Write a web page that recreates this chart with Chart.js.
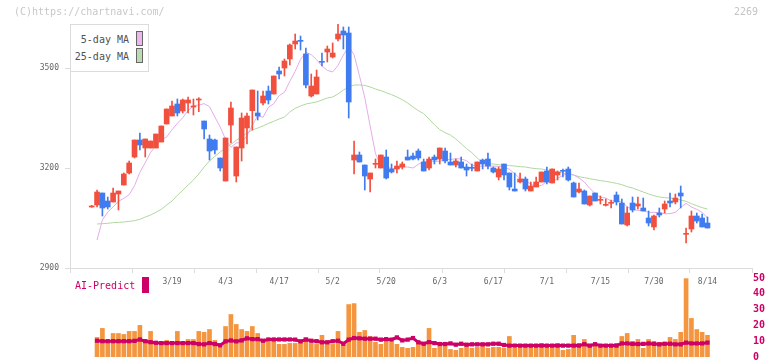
<!DOCTYPE html>
<html>
<head>
<meta charset="utf-8">
<script src="https://cdn.jsdelivr.net/npm/chart.js@4/dist/chart.umd.min.js"></script>
<style>
  body { margin: 0; background: #fff; }
  #wrap { position: relative; width: 772px; height: 361px; font-family: "DejaVu Sans Mono", monospace; font-size: 10px; }
  canvas { position: absolute; left: 0; top: 0; }
  .txt { position: absolute; line-height: 12px; white-space: nowrap; }
  .copy { left: 14px; top: 6px; color: #c8c8c8; }
  .code { left: 734px; top: 6px; color: #c4c4c4; }
  .legend { position: absolute; left: 70px; top: 24px; width: 79px; height: 48px; box-sizing: border-box; border: 1px solid #dcdcdc; background: #fff; }
  .lg { left: 70px; width: 59px; text-align: right; color: #505050; }
  .sw { position: absolute; left: 136px; width: 7px; height: 15px; box-sizing: border-box; border: 1px solid #666; }
  .ai { left: 75px; top: 280px; color: #cc0066; }
  .aisw { position: absolute; left: 142px; top: 277px; width: 7px; height: 16px; background: #cc0066; }
</style>
</head>
<body>
<div id="wrap">
  <canvas id="priceChart" width="772" height="361"></canvas>
  <canvas id="volumeChart" width="772" height="361"></canvas>
  <div class="txt copy">(C)https://chartnavi.com/</div>
  <div class="txt code">2269</div>
  <div class="legend"></div>
  <div class="txt lg" style="top:34px">5-day MA</div>
  <div class="sw" style="top:31px;background:#ebb8ee"></div>
  <div class="txt lg" style="top:51px">25-day MA</div>
  <div class="sw" style="top:48px;background:#bcdcb0"></div>
  <div class="txt ai">AI-Predict</div>
  <div class="aisw"></div>
</div>
<script>
// trading days shown (2025)
const dates = [
  "2/26","2/27","2/28","3/3","3/4","3/5","3/6","3/7","3/10","3/11",
  "3/12","3/13","3/14","3/17","3/18","3/19","3/21","3/24","3/25","3/26",
  "3/27","3/28","3/31","4/1","4/2","4/3","4/4","4/7","4/8","4/9",
  "4/10","4/11","4/14","4/15","4/16","4/17","4/18","4/21","4/22","4/23",
  "4/24","4/25","4/28","4/30","5/1","5/2","5/7","5/8","5/9","5/12",
  "5/13","5/14","5/15","5/16","5/19","5/20","5/21","5/22","5/23","5/26",
  "5/27","5/28","5/29","5/30","6/2","6/3","6/4","6/5","6/6","6/9",
  "6/10","6/11","6/12","6/13","6/16","6/17","6/18","6/19","6/20","6/23",
  "6/24","6/25","6/26","6/27","6/30","7/1","7/2","7/3","7/4","7/7",
  "7/8","7/9","7/10","7/11","7/14","7/15","7/16","7/17","7/18","7/22",
  "7/23","7/24","7/25","7/28","7/29","7/30","7/31","8/1","8/4","8/5",
  "8/6","8/7","8/8","8/12","8/13","8/14"
];

const opens = [
  3083,3089,3125,3101,3098,3122,3149,3185,3233,3284,
  3260,3260,3260,3278,3332,3356,3392,3371,3395,3383,
  3404,3341,3287,3284,3230,3161,3329,3176,3260,3320,
  3372,3365,3395,3431,3422,3491,3500,3527,3572,3583,
  3542,3416,3422,3519,3548,3533,3587,3611,3605,3224,
  3239,3209,3167,3211,3200,3233,3197,3197,3203,3233,
  3236,3251,3218,3200,3233,3227,3251,3218,3209,3218,
  3203,3201,3191,3224,3227,3200,3173,3212,3185,3137,
  3158,3167,3131,3143,3158,3191,3155,3179,3192,3197,
  3155,3128,3131,3089,3125,3103,3088,3094,3119,3095,
  3029,3095,3086,3080,3050,3023,3065,3077,3101,3098,
  3125,3001,3017,3056,3050,3035
];
const highs = [
  3088,3134,3125,3113,3140,3131,3185,3221,3284,3305,
  3287,3281,3302,3326,3377,3401,3407,3407,3413,3407,
  3411,3341,3299,3287,3230,3290,3398,3263,3365,3365,
  3434,3431,3431,3446,3476,3503,3527,3572,3602,3596,
  3560,3482,3494,3545,3566,3575,3632,3623,3623,3281,
  3248,3209,3185,3227,3239,3254,3212,3221,3218,3254,
  3245,3257,3227,3233,3239,3260,3260,3245,3227,3233,
  3212,3212,3218,3227,3245,3203,3203,3212,3185,3185,
  3185,3173,3158,3173,3188,3203,3197,3191,3197,3203,
  3158,3155,3134,3116,3125,3116,3107,3104,3128,3107,
  3083,3113,3113,3110,3071,3059,3080,3101,3125,3122,
  3146,3020,3071,3065,3062,3053
];
const lows = [
  3082,3083,3056,3077,3098,3074,3149,3182,3230,3254,
  3233,3260,3260,3278,3332,3356,3356,3365,3365,3359,
  3369,3287,3224,3242,3191,3161,3275,3158,3221,3272,
  3314,3344,3389,3392,3422,3467,3476,3509,3557,3554,
  3440,3413,3422,3506,3518,3530,3581,3557,3350,3182,
  3218,3134,3128,3200,3200,3167,3185,3185,3197,3224,
  3224,3224,3191,3194,3212,3212,3215,3209,3203,3200,
  3176,3191,3191,3197,3197,3185,3164,3164,3134,3131,
  3155,3131,3131,3143,3158,3152,3155,3164,3173,3161,
  3113,3125,3092,3086,3101,3092,3086,3080,3089,3032,
  3026,3068,3077,3071,3026,3014,3053,3065,3083,3092,
  3080,2975,3008,3035,3023,3020
];
const closes = [
  3086,3128,3080,3083,3125,3131,3182,3215,3284,3269,
  3287,3281,3302,3326,3377,3386,3365,3404,3404,3386,
  3407,3317,3251,3254,3200,3290,3380,3263,3350,3356,
  3434,3356,3416,3404,3476,3482,3521,3569,3581,3580,
  3449,3446,3473,3517,3557,3545,3602,3599,3398,3239,
  3218,3176,3185,3213,3239,3170,3188,3206,3212,3224,
  3227,3230,3191,3227,3224,3260,3221,3209,3221,3200,
  3194,3199,3218,3212,3206,3188,3197,3179,3143,3131,
  3167,3137,3146,3158,3188,3158,3197,3188,3190,3164,
  3113,3137,3092,3116,3101,3105,3090,3096,3098,3032,
  3065,3074,3092,3071,3035,3056,3059,3092,3095,3110,
  3116,3003,3056,3041,3023,3020
];

const ma5 = [
  null,2984,3044,3068,3083,3100,3109,3120,3147,3187,
  3216,3247,3267,3285,3293,3315,3334,3351,3372,3387,
  3389,3393,3384,3353,3323,3286,3262,3275,3277,3297,
  3328,3357,3352,3382,3393,3417,3427,3460,3490,3526,
  3547,3540,3525,3506,3493,3488,3508,3539,3564,3540,
  3477,3411,3326,3243,3206,3206,3197,3199,3203,3203,
  3200,3211,3220,3217,3220,3220,3226,3225,3228,3227,
  3222,3209,3205,3206,3205,3206,3205,3204,3196,3183,
  3168,3163,3151,3145,3148,3159,3157,3169,3178,3184,
  3179,3170,3158,3139,3124,3112,3110,3101,3102,3098,
  3084,3076,3073,3072,3067,3067,3066,3063,3063,3067,
  3082,3094,3083,3076,3067,3050
];
const ma25 = [
  null,3032,3033,3034,3036,3037,3038,3040,3042,3046,
  3053,3059,3067,3076,3089,3101,3118,3133,3149,3164,
  3182,3203,3221,3235,3248,3260,3271,3283,3293,3305,
  3314,3320,3326,3334,3340,3347,3353,3368,3379,3386,
  3392,3395,3398,3404,3410,3413,3422,3434,3443,3449,
  3449,3448,3443,3437,3432,3426,3420,3413,3405,3395,
  3383,3372,3363,3347,3330,3315,3306,3299,3287,3273,
  3258,3246,3230,3216,3213,3212,3210,3209,3207,3206,
  3204,3203,3200,3198,3197,3194,3191,3188,3185,3182,
  3179,3174,3171,3168,3165,3162,3160,3157,3154,3150,
  3144,3140,3134,3128,3122,3117,3113,3111,3110,3107,
  3104,3100,3093,3087,3081,3077
];

const volumes = [
  null,12.4,18.1,9.9,14.9,14.9,14.3,16.2,16.2,20.0,
  11.1,16.2,9.9,9.3,10.5,9.3,16.2,8.6,11.1,11.1,
  16.2,15.6,17.4,10.5,6.1,19.3,26.9,20.6,17.4,16.2,
  19.3,14.9,11.1,9.3,9.9,8.0,8.0,8.6,8.6,9.3,
  12.4,8.6,8.0,13.7,8.0,8.0,16.2,7.4,33.2,33.8,
  15.6,16.8,13.0,9.3,8.0,10.5,9.3,8.0,6.1,5.5,
  6.1,9.3,9.3,18.1,5.5,6.7,7.4,4.8,4.2,5.5,
  7.4,5.5,6.1,7.4,5.5,6.1,6.1,5.5,13.0,5.5,
  6.1,7.4,6.1,6.1,8.6,6.1,6.1,8.6,4.2,4.8,
  13.7,8.6,11.1,6.7,8.6,6.1,6.1,6.1,8.6,13.0,
  14.9,9.9,11.1,5.5,11.1,9.9,9.3,9.3,12.4,11.1,
  15.6,49.6,24.4,17.4,15.6,13.7
];
const aiPredict = [
  null,10.3,10.0,10.0,10.0,10.0,10.0,10.0,10.2,11.1,
  10.0,9.4,9.0,8.8,8.8,8.8,8.8,8.8,8.8,8.8,
  8.2,8.0,8.8,8.2,7.4,9.9,10.5,9.9,10.5,11.8,
  11.3,11.3,10.3,11.1,11.1,11.1,11.1,11.1,11.0,9.9,
  11.0,10.3,10.0,9.3,9.3,10.0,10.3,8.4,11.0,12.0,
  11.8,11.6,11.6,11.6,11.0,11.3,11.0,12.4,10.5,11.0,
  12.0,9.3,8.4,9.4,8.8,8.2,8.2,8.6,7.8,8.4,
  7.8,8.0,8.0,8.0,8.0,8.4,8.4,7.6,7.2,7.2,
  7.2,7.2,7.2,7.2,7.2,7.2,7.2,7.2,7.2,7.2,
  7.2,7.2,8.1,7.2,8.1,7.2,7.2,7.2,7.2,8.6,
  8.6,8.3,8.2,8.3,8.6,8.3,8.0,8.4,8.4,8.0,
  8.0,9.1,8.6,8.6,8.6,9.1
];

const priceTicks = [2900, 3200, 3500];
const volumeTicks = [0, 10, 20, 30, 40, 50];
const dateTicks = ["3/19","4/3","4/17","5/2","5/20","6/3","6/17","7/1","7/15","7/30","8/14"];

const UP = "#f2503e";
const DOWN = "#407cf0";
const AXIS = "#dcdcdc";
const X_MIN = -4.05, X_MAX = 123.31;   // slot range across the plot width
const GRID_STEPS = 11;                 // evenly spaced tick marks on the date axis

Chart.defaults.font.family = "'DejaVu Sans Mono', monospace";

const slots = dates.map((d, i) => i);
const asPoints = arr => arr.map((v, i) => ({ x: i, y: v }));
const candleColor = ctx => closes[ctx.dataIndex] >= opens[ctx.dataIndex] ? UP : DOWN;

function xTicks(scale) {
  const list = [];
  for (let k = 0; k <= GRID_STEPS; k++) {
    list.push({ value: X_MIN + (X_MAX - X_MIN) * k / GRID_STEPS });
  }
  dateTicks.forEach(t => list.push({ value: dates.indexOf(t), lbl: t }));
  list.sort((a, b) => a.value - b.value);
  scale.ticks = list;
}

// keep label overhang from shrinking the plot area
function noEdgePadding(scale) {
  scale.paddingTop = 0;
  scale.paddingBottom = 0;
}

new Chart(document.getElementById("priceChart"), {
  type: "bar",
  data: {
    datasets: [
      { type: "line", label: "5-day MA", data: asPoints(ma5), borderColor: "#e4ace8", borderWidth: 1, pointRadius: 0, order: 3 },
      { type: "line", label: "25-day MA", data: asPoints(ma25), borderColor: "#b0d8a0", borderWidth: 1, pointRadius: 0, order: 4 },
      { label: "wick", data: slots.map(i => ({ x: i, y: [lows[i], highs[i]] })), backgroundColor: candleColor,
        barThickness: 1, minBarLength: 1, grouped: false, order: 2 },
      { label: "body", data: slots.map(i => ({ x: i, y: [opens[i], closes[i]] })), backgroundColor: candleColor,
        barThickness: 5, minBarLength: 1, grouped: false, order: 1 }
    ]
  },
  options: {
    responsive: false,
    animation: false,
    devicePixelRatio: 1,
    layout: { padding: { top: 24, right: 20, left: 0, bottom: 0 } },
    plugins: { legend: { display: false }, tooltip: { enabled: false } },
    scales: {
      x: {
        type: "linear", min: X_MIN, max: X_MAX, offset: false,
        afterBuildTicks: xTicks,
        afterFit: s => { s.height = 93; },
        ticks: {
          autoSkip: false, maxRotation: 0, padding: 4, color: "#666",
          font: { size: 8 },
          callback: (v, i, ticks) => ticks[i].lbl || ""
        },
        grid: {
          offset: false, drawOnChartArea: false, tickLength: 5,
          tickColor: ctx => (ctx.tick && ctx.tick.lbl) ? "rgba(0,0,0,0)" : AXIS
        },
        border: { color: AXIS }
      },
      y: {
        min: 2900, max: 3632,
        afterBuildTicks: s => { s.ticks = priceTicks.map(v => ({ value: v })); },
        afterFit: s => { s.width = 70; noEdgePadding(s); },
        ticks: { padding: 6, color: "#666", font: { size: 8 }, callback: v => String(v) },
        grid: { drawOnChartArea: false, tickLength: 5, color: AXIS },
        border: { color: AXIS }
      }
    }
  }
});

new Chart(document.getElementById("volumeChart"), {
  type: "bar",
  data: {
    datasets: [
      { type: "line", label: "AI-Predict", data: asPoints(aiPredict), borderColor: "#cc0066", borderWidth: 3,
        pointStyle: "rect", pointRadius: 3, pointBorderWidth: 0, pointBackgroundColor: "#cc0066", order: 1 },
      { label: "Volume", data: asPoints(volumes), backgroundColor: "#f3963f", barThickness: 4, order: 2 }
    ]
  },
  options: {
    responsive: false,
    animation: false,
    devicePixelRatio: 1,
    layout: { padding: { top: 278, bottom: 3, left: 70, right: 0 } },
    plugins: { legend: { display: false }, tooltip: { enabled: false } },
    scales: {
      x: { type: "linear", min: X_MIN, max: X_MAX, offset: false, display: false },
      y: {
        position: "right", min: 0, max: 50,
        afterBuildTicks: s => { s.ticks = volumeTicks.map(v => ({ value: v })); },
        afterFit: s => { s.width = 20; noEdgePadding(s); },
        ticks: { padding: 1, color: "#cc0066", font: { size: 10, weight: "bold" }, callback: v => String(v) },
        grid: { display: false, drawTicks: false },
        border: { display: false }
      }
    }
  }
});
</script>
</body>
</html>
